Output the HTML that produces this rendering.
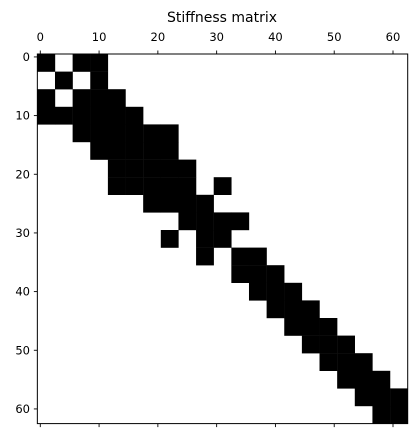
<!DOCTYPE html>
<html><head><meta charset="utf-8">
<style>
html,body{margin:0;padding:0;background:#fff;}
svg{display:block;font-family:"DejaVu Sans","Liberation Sans",sans-serif;}
</style></head>
<body>
<svg id="chart" width="417" height="438" viewBox="0 0 417 438" xmlns="http://www.w3.org/2000/svg">
<rect width="417" height="438" fill="#fff"/>
<text x="222" y="22" font-size="14" text-anchor="middle" fill="#000">Stiffness matrix</text>
<g id="cells"></g>
<rect x="37.35" y="54" width="370.35" height="369.6" fill="none" stroke="#000" stroke-width="1"/>
<g id="ticks"></g>
</svg>
<script>
// matrix size and node-block structure (3 DOF per node)
const matrixSize = [63];
const dofPerNode = [3];
const blockPairsI = [0,0,0,1,1,2,2,2,3,3,3,4,4,4,4,5,5,5,6,6,6,7,7,7,8,8,9,9,9,10,11,11,12,12,13,13,14,14,15,15,16,16,17,17,18,18,19,19,20];
const blockPairsJ = [0,2,3,1,3,2,3,4,3,4,5,4,5,6,7,5,6,7,6,7,8,7,8,10,8,9,9,10,11,10,11,12,12,13,13,14,14,15,15,16,16,17,17,18,18,19,19,20,20];
const xTicks = [0,10,20,30,40,50,60];
const yTicks = [0,10,20,30,40,50,60];

const NS = "http://www.w3.org/2000/svg";
const x0 = 37.35, y0 = 54, cw = 370.35/63, ch = 369.6/63;
function xs(c){ return x0 + (c + 0.5) * cw; }
function ys(r){ return y0 + (r + 0.5) * ch; }

const cells = document.getElementById('cells');
function block(bi, bj){
  const d = dofPerNode[0];
  const r = document.createElementNS(NS,'rect');
  r.setAttribute('x', xs(bj*d) - cw/2);
  r.setAttribute('y', ys(bi*d) - ch/2);
  r.setAttribute('width', cw*d + 0.2);
  r.setAttribute('height', ch*d + 0.2);
  r.setAttribute('fill', '#000');
  
  
  cells.appendChild(r);
}
for (let k = 0; k < blockPairsI.length; k++){
  const i = blockPairsI[k], j = blockPairsJ[k];
  block(i, j);
  if (i !== j) block(j, i);
}

const ticks = document.getElementById('ticks');
function line(x1,y1,x2,y2,name){
  const l = document.createElementNS(NS,'line');
  l.setAttribute('x1',x1);l.setAttribute('y1',y1);l.setAttribute('x2',x2);l.setAttribute('y2',y2);
  l.setAttribute('stroke','#000');l.setAttribute('stroke-width','0.9');
  
  
  ticks.appendChild(l);
}
function label(x,y,t,anchor,name){
  const e = document.createElementNS(NS,'text');
  e.setAttribute('x',x);e.setAttribute('y',y);e.setAttribute('font-size','11.5');
  e.setAttribute('text-anchor',anchor);e.setAttribute('fill','#000');
  e.textContent = t;
  
  
  ticks.appendChild(e);
}
xTicks.forEach(v => {
  const x = xs(v);
  line(x, 54, x, 50.5, 'x-tick-top');
  line(x, 423.6, x, 427.1, 'x-tick-bottom');
  label(x, 41, String(v), 'middle', 'x-tick-label');
});
yTicks.forEach(v => {
  const y = ys(v);
  line(37.35, y, 33.85, y, 'y-tick');
  label(30, y + 4, String(v), 'end', 'y-tick-label');
});
</script>
</body></html>
